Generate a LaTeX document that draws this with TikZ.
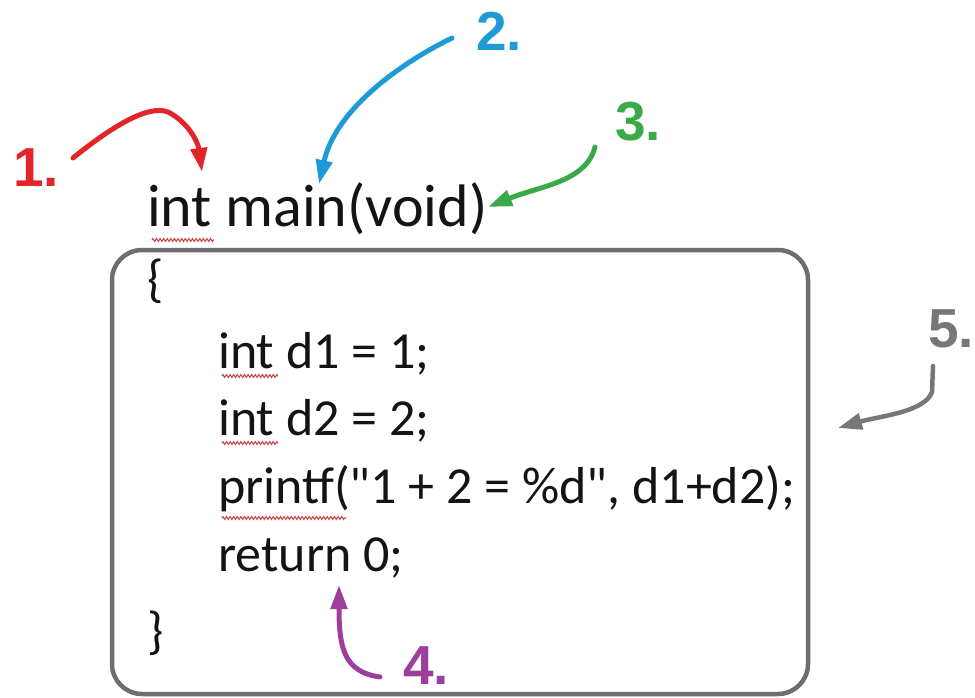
\documentclass[tikz,border=0pt]{standalone}
\usepackage{fontspec}
\setmainfont{Carlito}[Ligatures=TeXOff]
\newfontfamily\numfont{Liberation Sans}
\usetikzlibrary{arrows.meta,calc,decorations.pathmorphing}
\definecolor{cred}{HTML}{E3242B}
\definecolor{cblue}{HTML}{1E9BD7}
\definecolor{cgreen}{HTML}{3BA84A}
\definecolor{cpurple}{HTML}{9C3E9C}
\definecolor{cgray}{HTML}{6E6E6E}
\definecolor{cgray5}{HTML}{777777}
\definecolor{squig}{HTML}{C8474B}
\definecolor{ink}{HTML}{141414}
\newcommand{\dq}{\symbol{34}}
\tikzset{
  numlabel/.style={font=\numfont\bfseries\fontsize{55}{60}\selectfont, inner sep=0pt, anchor=center},
  titletext/.style={font=\fontsize{60}{64}\selectfont, text=ink, inner sep=0pt, anchor=base west},
  codetext/.style={font=\fontsize{52}{56}\selectfont, text=ink, inner sep=0pt, anchor=base west},
  handarrow/.style={line width=5pt, line cap=round, line join=round, -{Triangle[length=24pt,width=16pt]}},
  squiggle/.style={squig, line width=1.1pt, decorate, decoration={zigzag, amplitude=1.4pt, segment length=3.6pt}},
  codebox/.style={draw=cgray, line width=4.5pt, rounded corners=30pt}
}
\begin{document}
\begin{tikzpicture}[x=1pt,y=-1pt]
\useasboundingbox (0,0) rectangle (975,698);
\fill[white] (0,0) rectangle (975,698);

% code box
\draw[codebox] (112,250) rectangle (808,694);

% texts
\node[titletext] (title) at (147,226) {int main(void)};
\node[codetext] (ob) at (147,296) {\{};
\node[codetext] (l1) at (218,368) {int d1 = 1;};
\node[codetext] (l2) at (218,435) {int d2 = 2;};
\node[codetext] (l3) at (218,503) {printf(\dq 1 + 2 = \%d\dq, d1+d2);};
\node[codetext] (l4) at (218,571) {return 0;};
\node[codetext] (cb) at (147,648) {\}};

% spell-check squiggles
\draw[squiggle] ($(title.base west)+(5,14)$) -- ++(62,0);
\draw[squiggle] ($(l1.base west)+(4,8)$) -- ++(56,0);
\draw[squiggle] ($(l2.base west)+(4,8)$) -- ++(56,0);
\draw[squiggle] ($(l3.base west)+(4,15)$) -- ++(124,0);

% labels
\node[numlabel, text=cred] (n1) at (36,168) {1.};
\node[numlabel, text=cblue] (n2) at (499,31) {2.};
\node[numlabel, text=cgreen] (n3) at (638,122) {3.};
\node[numlabel, text=cpurple] (n4) at (426,666) {4.};
\node[numlabel, text=cgray5] (n5) at (951,329) {5.};

% arrow end points
\coordinate (a1s) at (73,158);
\coordinate (a1e) at (202,172);
\coordinate (a2s) at (452,38);
\coordinate (a2e) at (319,184);
\coordinate (a3s) at (595,147);
\coordinate (a3e) at (488,207);
\coordinate (a4s) at (380,677);
\coordinate (a4e) at (339,585);
\coordinate (a5s) at (933,366);
\coordinate (a5e) at (838,428);

\draw[handarrow, cred] (a1s) .. controls (110,128) and (148,104) .. (168,112)
  .. controls (188,122) and (198,142) .. (a1e);
\draw[handarrow, cblue] (a2s) .. controls (395,66) and (335,112) .. (a2e);
\draw[handarrow, cgreen] (a3s) .. controls (586,182) and (540,186) .. (a3e);
\draw[handarrow, cpurple] (a4s) .. controls (344,672) and (339,648) .. (a4e);
\draw[handarrow, cgray5, line width=4.5pt] (a5s) -- (932,392)
  .. controls (925,412) and (880,416) .. (a5e);
\end{tikzpicture}
\end{document}
